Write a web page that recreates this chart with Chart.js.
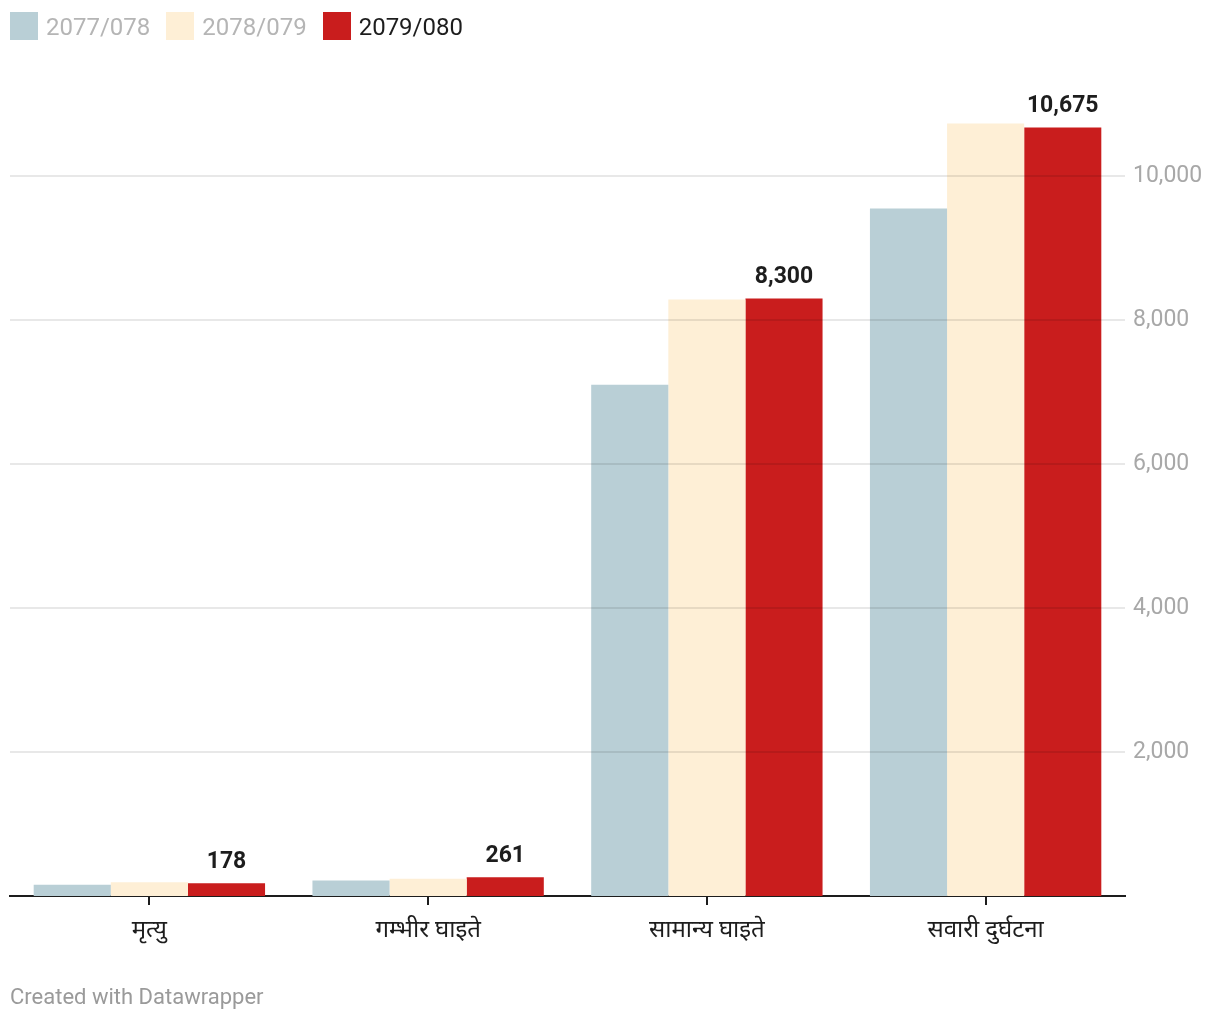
<!DOCTYPE html>
<html>
<head>
<meta charset="utf-8">
<script src="https://cdn.jsdelivr.net/npm/chart.js@4/dist/chart.umd.min.js"></script>
<style>
    body { margin: 0; background: #fff; font-family: Roboto, "Noto Sans", sans-serif; }
    #wrap { position: relative; width: 1220px; height: 1020px; }
    #chartBox { position: absolute; left: 0; top: 0; width: 1220px; height: 1020px; }
    .legend { position: absolute; left: 10px; top: 12px; display: flex; font-size: 24px; line-height: 28px; }
    .legend .item { display: flex; align-items: center; margin-right: 16px; }
    .legend .sw { width: 28px; height: 28px; margin-right: 8px; }
    .legend span { position: relative; top: 1px; }
    .footer { position: absolute; left: 10px; top: 984px; font-size: 22px; color: #9a9a9a; }
</style>
</head>
<body>
<div id="wrap">
    <div id="chartBox"><canvas id="chart"></canvas></div>
    <div class="legend" id="legend"></div>
    <div class="footer">Created with Datawrapper</div>
</div>
<script>
// categories and series values
const categories = ["मृत्यु", "गम्भीर घाइते", "सामान्य घाइते", "सवारी दुर्घटना"];
const seriesNames = ["2077/078", "2078/079", "2079/080"];
const values2077 = [155, 215, 7100, 9550];
const values2078 = [190, 240, 8285, 10730];
const values2079 = [178, 261, 8300, 10675];
const yTicks = [2000, 4000, 6000, 8000, 10000];

const colors = ["#b9cfd6", "#feefd6", "#c91d1d"];
const legendText = ["#b5b5b5", "#b5b5b5", "#1d1d1d"];
const fontFamily = "Roboto, 'Noto Sans', 'Noto Sans Devanagari', sans-serif";

// html legend
const legend = document.getElementById("legend");
seriesNames.forEach((name, i) => {
    const item = document.createElement("div");
    item.className = "item";
    item.innerHTML = '<div class="sw" style="background:' + colors[i] + '"></div>' +
        '<span style="color:' + legendText[i] + '">' + name + '</span>';
    legend.appendChild(item);
});

// labels above the last series only
const valueLabels = {
    id: "valueLabels",
    afterDatasetsDraw(chart) {
        const ctx = chart.ctx;
        const meta = chart.getDatasetMeta(2);
        ctx.save();
        ctx.font = "bold 23px " + fontFamily;
        ctx.fillStyle = "#1d1d1d";
        ctx.textAlign = "center";
        ctx.textBaseline = "alphabetic";
        meta.data.forEach((bar, i) => {
            ctx.fillText(values2079[i].toLocaleString("en-US"), bar.x, bar.y - 15);
        });
        ctx.restore();
    }
};

new Chart(document.getElementById("chart"), {
    type: "bar",
    data: {
        labels: categories,
        datasets: [
            { label: seriesNames[0], data: values2077, backgroundColor: colors[0] },
            { label: seriesNames[1], data: values2078, backgroundColor: colors[1] },
            { label: seriesNames[2], data: values2079, backgroundColor: colors[2] }
        ]
    },
    options: {
        responsive: true,
        maintainAspectRatio: false,
        animation: false,
        datasets: { bar: { categoryPercentage: 0.83, barPercentage: 1.0 } },
        layout: { padding: { left: 10, right: 0, top: 104, bottom: 0 } },
        plugins: {
            legend: { display: false },
            tooltip: { enabled: false }
        },
        scales: {
            x: {
                grid: { display: true, offset: false, drawOnChartArea: false, drawTicks: true, tickLength: 9, tickColor: "#1d1d1d", lineWidth: 2 },
                border: { display: true, color: "#1d1d1d", width: 2 },
                ticks: { color: "#1d1d1d", font: { size: 24, family: fontFamily }, padding: 12 },
                afterFit: scale => { scale.height = 124; }
            },
            y: {
                position: "right",
                min: 0,
                max: 11000,
                afterBuildTicks: scale => { scale.ticks = yTicks.map(v => ({ value: v })); },
                afterFit: scale => { scale.width = 95; },
                grid: { color: "rgba(0, 0, 0, 0.09)", lineWidth: 2, drawTicks: false, z: 1 },
                border: { display: false },
                ticks: {
                    color: "#a8a8a8",
                    padding: 8,
                    font: { size: 23, family: fontFamily },
                    callback: v => v.toLocaleString("en-US")
                }
            }
        }
    },
    plugins: [valueLabels]
});
</script>
</body>
</html>
